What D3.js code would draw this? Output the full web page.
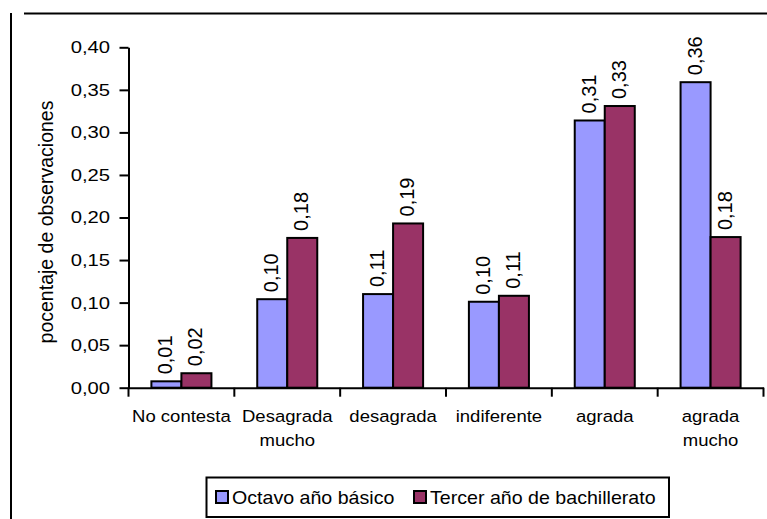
<!DOCTYPE html>
<html>
<head>
<meta charset="utf-8">
<script src="https://cdn.jsdelivr.net/npm/d3@7"></script>
<style>
  html, body { margin: 0; padding: 0; background: #fff; }
  svg { display: block; font-family: "Liberation Sans", Arial, sans-serif; }
</style>
</head>
<body>
<svg id="chart" width="767" height="519"></svg>
<script>
const categories = ["No contesta", "Desagrada mucho", "desagrada", "indiferente", "agrada", "agrada mucho"];
const categoryLines = [["No contesta"], ["Desagrada", "mucho"], ["desagrada"], ["indiferente"], ["agrada"], ["agrada", "mucho"]];
const seriesNames = ["Octavo año básico", "Tercer año de bachillerato"];
const octavo = [0.0075, 0.104, 0.110, 0.101, 0.314, 0.359];
const tercer = [0.017, 0.176, 0.193, 0.108, 0.331, 0.177];
const yTicks = [0, 0.05, 0.10, 0.15, 0.20, 0.25, 0.30, 0.35, 0.40];
const colors = ["#9999FF", "#993366"];
const yTitle = "pocentaje de observaciones";

const svg = d3.select("#chart");
const locale = d3.formatLocale({decimal: ",", thousands: ".", grouping: [3], currency: ["", ""]});
const fmt = locale.format(".2f");

const x0 = 128.5, x1r = 763.5, yTop = 47.3, yBot = 387.7;
const x = d3.scaleBand().domain(categories).range([x0, x1r]).paddingInner(0).paddingOuter(0);
const xs = d3.scaleBand().domain(seriesNames).range([0, x.bandwidth()]).paddingInner(0).paddingOuter(0.763);
const y = d3.scaleLinear().domain([0, 0.4]).range([yBot, yTop]);

// frame lines
svg.append("line").attr("x1", 11).attr("x2", 11).attr("y1", 13).attr("y2", 519)
  .attr("stroke", "#000").attr("stroke-width", 2);
svg.append("line").attr("x1", 24).attr("x2", 767).attr("y1", 13.5).attr("y2", 13.5)
  .attr("stroke", "#000").attr("stroke-width", 2);

// bars
const data = categories.map((c, i) => ({cat: c, vals: [octavo[i], tercer[i]]}));
const groups = svg.append("g").selectAll("g").data(data).join("g")
  .attr("transform", d => `translate(${x(d.cat)},0)`);
groups.selectAll("rect").data(d => d.vals.map((v, j) => ({s: seriesNames[j], v, j})))
  .join("rect")
  .attr("x", d => xs(d.s))
  .attr("y", d => y(d.v))
  .attr("width", xs.bandwidth())
  .attr("height", d => y(0) - y(d.v))
  .attr("fill", d => colors[d.j])
  .attr("stroke", "#000").attr("stroke-width", 2);

// data labels
groups.selectAll("text.lbl").data(d => d.vals.map((v, j) => ({s: seriesNames[j], v, j})))
  .join("text").attr("class", "lbl")
  .attr("transform", d => `translate(${xs(d.s) + xs.bandwidth() / 2 + 6},${y(d.v) - 7}) rotate(-90)`)
  .attr("font-size", 20).attr("fill", "#000")
  .text(d => fmt(d.v));

// y axis
const yAxis = d3.axisLeft(y).tickValues(yTicks).tickFormat(fmt).tickSize(9).tickSizeOuter(0).tickPadding(0);
const gy = svg.append("g").attr("transform", `translate(${x0},0)`).call(yAxis);
gy.select(".domain").attr("stroke", "#000").attr("stroke-width", 2);
gy.selectAll(".tick line").attr("stroke", "#000").attr("stroke-width", 2);
gy.selectAll(".tick text").attr("font-size", 17).attr("fill", "#000")
  .attr("font-family", "Liberation Sans, Arial, sans-serif")
  .attr("x", -18.5 / 1.19).attr("transform", "scale(1.19,1)");

// x axis
const xAxis = d3.axisBottom(x).tickSize(0).tickSizeOuter(0).tickFormat("");
const gx = svg.append("g").attr("transform", `translate(0,${yBot})`).call(xAxis);
gx.select(".domain").attr("stroke", "#000").attr("stroke-width", 2);
// boundary tick marks
const bounds = categories.map(c => x(c)).concat([x(categories[categories.length - 1]) + x.bandwidth()]);
gx.selectAll("line.bt").data(bounds).join("line").attr("class", "bt")
  .attr("x1", d => d).attr("x2", d => d).attr("y1", 0).attr("y2", 9)
  .attr("stroke", "#000").attr("stroke-width", 2);
// category labels
const cl = svg.append("g").selectAll("text").data(categories).join("text")
  .attr("transform", c => `translate(${x(c) + x.bandwidth() / 2},422) scale(1.09,1)`)
  .attr("text-anchor", "middle").attr("font-size", 17).attr("fill", "#000");
cl.each(function(c, i) {
  const t = d3.select(this);
  categoryLines[i].forEach((ln, k) => {
    t.append("tspan").attr("x", 0).attr("y", k * 24.5).text(ln);
  });
});

// y title
svg.append("text")
  .attr("transform", `translate(53,222) rotate(-90)`)
  .attr("text-anchor", "middle").attr("font-size", 19.5).attr("fill", "#000")
  .text(yTitle);

// legend
const lg = svg.append("g");
lg.append("rect").attr("x", 206.5).attr("y", 477.5).attr("width", 462.5).attr("height", 39.5)
  .attr("fill", "#fff").attr("stroke", "#000").attr("stroke-width", 2);
const legX = [216, 414];
seriesNames.forEach((s, i) => {
  lg.append("rect").attr("x", legX[i]).attr("y", 491).attr("width", 12).attr("height", 12)
    .attr("fill", colors[i]).attr("stroke", "#000").attr("stroke-width", 2);
  lg.append("text").attr("transform", `translate(${legX[i] + 16},503.5) scale(1.09,1)`)
    .attr("font-size", 18).attr("fill", "#000").text(s);
});
</script>
</body>
</html>
